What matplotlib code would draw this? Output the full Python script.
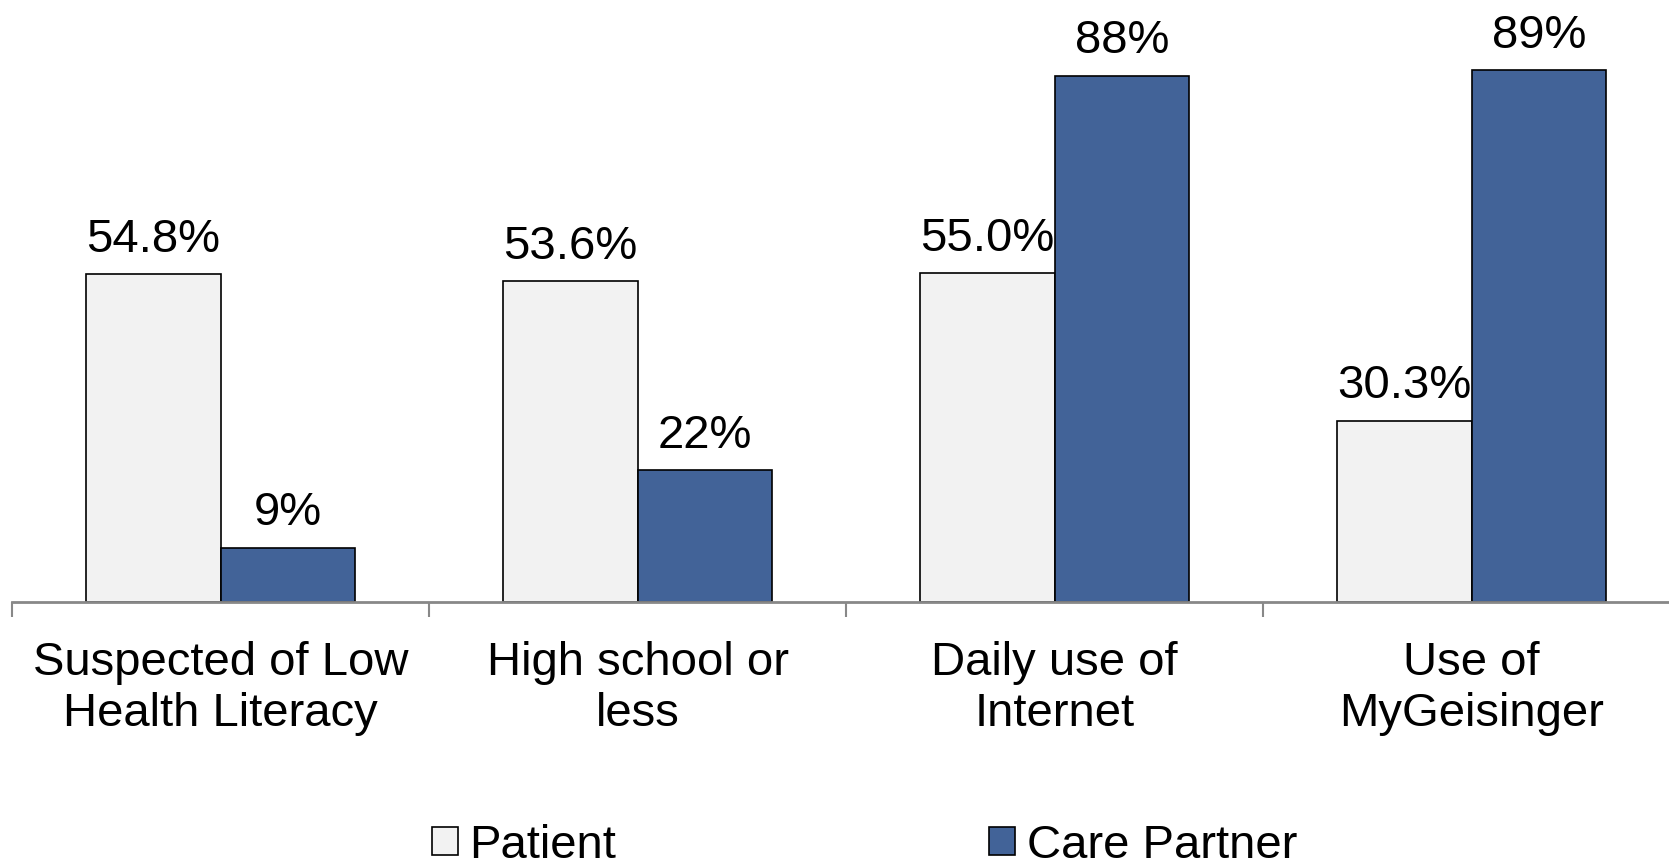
import numpy as np
import matplotlib.pyplot as plt

plt.rcParams['font.family'] = ['Liberation Sans', 'DejaVu Sans']

categories = ["Suspected of Low\nHealth Literacy", "High school or\nless",
              "Daily use of\nInternet", "Use of\nMyGeisinger"]
patient = [54.8, 53.6, 55.0, 30.3]
care_partner = [9, 22, 88, 89]
patient_labels = ["54.8%", "53.6%", "55.0%", "30.3%"]
care_labels = ["9%", "22%", "88%", "89%"]

fig = plt.figure(figsize=(16.69, 8.65), dpi=100)
ax = fig.add_axes([12 / 1669, 1 - 601.7 / 865, 1668 / 1669, (601.7 - 4.3) / 865])

x = np.arange(len(categories))
w = 0.3225
b1 = ax.bar(x - w / 2, patient, w, color='#F2F2F2', edgecolor='black', linewidth=1.2, label='Patient')
b2 = ax.bar(x + w / 2, care_partner, w, color='#426398', edgecolor='black', linewidth=1.2, label='Care Partner')

for bars, labs in [(b1, patient_labels), (b2, care_labels)]:
    for r, lab in zip(bars, labs):
        ax.annotate(lab, (r.get_x() + r.get_width() / 2, r.get_height()),
                    xytext=(0, 9), textcoords='offset points',
                    ha='center', va='bottom', fontsize=34)

ax.set_xlim(-0.5, 3.5)
ax.set_ylim(0, 100)
for s in ['top', 'right', 'left']:
    ax.spines[s].set_visible(False)
ax.spines['bottom'].set_color('#888888')
ax.spines['bottom'].set_linewidth(2)
ax.set_yticks([])
ax.set_xticks(x)
ax.set_xticklabels(categories, fontsize=34, linespacing=1.23)
ax.tick_params(axis='x', which='major', length=0, pad=28)
ax.set_xticks(np.arange(-0.5, 4, 1), minor=True)
ax.tick_params(axis='x', which='minor', length=11, width=1.5, color='#888888')

fig.legend(loc='center', bbox_to_anchor=(0.518, 0.022), ncol=2, frameon=False,
           fontsize=34, handlelength=0.55, handleheight=0.55, handletextpad=0.25,
           columnspacing=7.9, borderpad=0)

fig.savefig('out.png', dpi=100)
